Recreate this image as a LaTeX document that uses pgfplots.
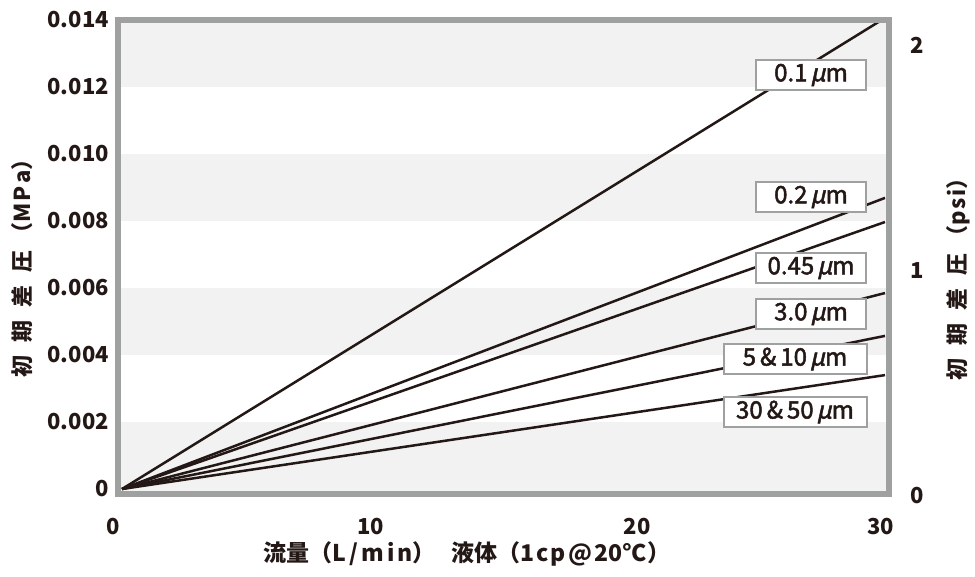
\documentclass[border=0pt]{standalone}
\usepackage{fontspec}
\setmainfont{Noto Sans CJK JP}
\newfontfamily\medfont{Noto Sans CJK JP}[FakeBold=2]
\newfontfamily\slfont{Noto Sans CJK JP}[FakeSlant=0.22, FakeBold=2]
\usepackage{pgfplots}
\pgfplotsset{compat=1.18}
\definecolor{ink}{HTML}{231815}
\definecolor{framegray}{HTML}{9FA0A0}
\definecolor{stripe}{HTML}{F2F2F2}
\newcommand{\mum}{{\slfont µ}m}
\begin{document}
\begin{tikzpicture}[x=1pt,y=1pt]
\useasboundingbox (0,0) rectangle (975,576);
\begin{axis}[
  at={(118pt,82pt)}, anchor=south west,
  scale only axis, width=771pt, height=474pt,
  xmin=-0.1573, xmax=30.1573, ymin=-0.000149, ymax=0.014,
  axis on top,
  axis line style={draw=framegray, line width=6pt},
  major tick length=0pt, tick style={draw=none},
  xtick={0,9.79,20.25,29.84},
  xticklabels={\makebox[0pt]{\hspace{-18pt}0},10,20,30},
  ytick={0,0.002,0.004,0.006,0.008,0.010,0.012,0.014},
  yticklabels={0,0.002,0.004,0.006,0.008,0.010,0.012,0.014},
  scaled y ticks=false,
  /pgf/number format/assume math mode=true,
  ticklabel style={font=\bfseries\fontsize{22}{22}\selectfont, text=ink, inner sep=0pt},
  yticklabel style={anchor=east, xshift=-9pt},
  xticklabel style={anchor=base, yshift=-41pt},
]
\fill[stripe] (axis cs:-1,-0.001) rectangle (axis cs:31,0.002);
\fill[stripe] (axis cs:-1,0.004) rectangle (axis cs:31,0.006);
\fill[stripe] (axis cs:-1,0.008) rectangle (axis cs:31,0.010);
\fill[stripe] (axis cs:-1,0.012) rectangle (axis cs:31,0.015);
\addplot[ink, line width=2.5pt] coordinates {(0,0) (30,0.01406)};
\addplot[ink, line width=2.5pt] coordinates {(0,0) (30,0.00869)};
\addplot[ink, line width=2.5pt] coordinates {(0,0) (30,0.00797)};
\addplot[ink, line width=2.5pt] coordinates {(0,0) (30,0.00585)};
\addplot[ink, line width=2.5pt] coordinates {(0,0) (30,0.00457)};
\addplot[ink, line width=2.5pt] coordinates {(0,0) (30,0.00340)};
\end{axis}
% right axis labels (psi)
\begin{axis}[
  at={(118pt,82pt)}, anchor=south west,
  scale only axis, width=771pt, height=474pt,
  xmin=0, xmax=30, ymin=0, ymax=2.102,
  axis x line=none,
  axis y line*=right,
  y axis line style={draw=none},
  xtick=\empty,
  major tick length=0pt, tick style={draw=none},
  ytick={0,1,2}, yticklabels={0,1,2},
  /pgf/number format/assume math mode=true,
  ticklabel style={font=\bfseries\fontsize{22}{22}\selectfont, text=ink, inner sep=0pt},
  yticklabel style={anchor=center, xshift=28pt, yshift=-2pt},
]
\addplot[draw=none] coordinates {(0,0) (30,2)};
\end{axis}
\tikzset{lbl/.style={draw=framegray, line width=2pt, fill=white, text=ink,
  minimum height=30pt, inner sep=0pt, font=\medfont\fontsize{24}{24}\selectfont}}
\node[lbl, minimum width=110pt] at (811,501) {0.1\hspace{3pt}\mum};
\node[lbl, minimum width=110pt] at (811,379) {0.2\hspace{3pt}\mum};
\node[lbl, minimum width=110pt] at (811,308) {0.45\hspace{3pt}\mum};
\node[lbl, minimum width=110pt] at (811,262) {3.0\hspace{3pt}\mum};
\node[lbl, minimum width=143pt] at (795,217) {5\hspace{4pt}\&\hspace{4pt}10\hspace{3pt}\mum};
\node[lbl, minimum width=143pt] at (795,164) {30\hspace{4pt}\&\hspace{4pt}50\hspace{3pt}\mum};
\node[rotate=90, text=ink, font=\bfseries\fontsize{22}{22}\selectfont] at (22,313)
  {初\hspace{13pt}期\hspace{13pt}差\hspace{13pt}圧\hspace{6pt}（M\hspace{2pt}P\hspace{2pt}a）};
\node[rotate=90, text=ink, font=\bfseries\fontsize{22}{22}\selectfont] at (958,302)
  {初\hspace{13pt}期\hspace{13pt}差\hspace{13pt}圧\hspace{6pt}（p\hspace{2pt}s\hspace{2pt}i）};
\node[text=ink, font=\bfseries\fontsize{23}{23}\selectfont] at (467,22)
  {流量（L\hspace{3pt}/\hspace{3pt}m\hspace{3pt}i\hspace{3pt}n）\hspace{16pt}液体（1\hspace{2pt}c\hspace{2pt}p\hspace{2pt}@\hspace{2pt}20°C）};
\end{tikzpicture}
\end{document}
